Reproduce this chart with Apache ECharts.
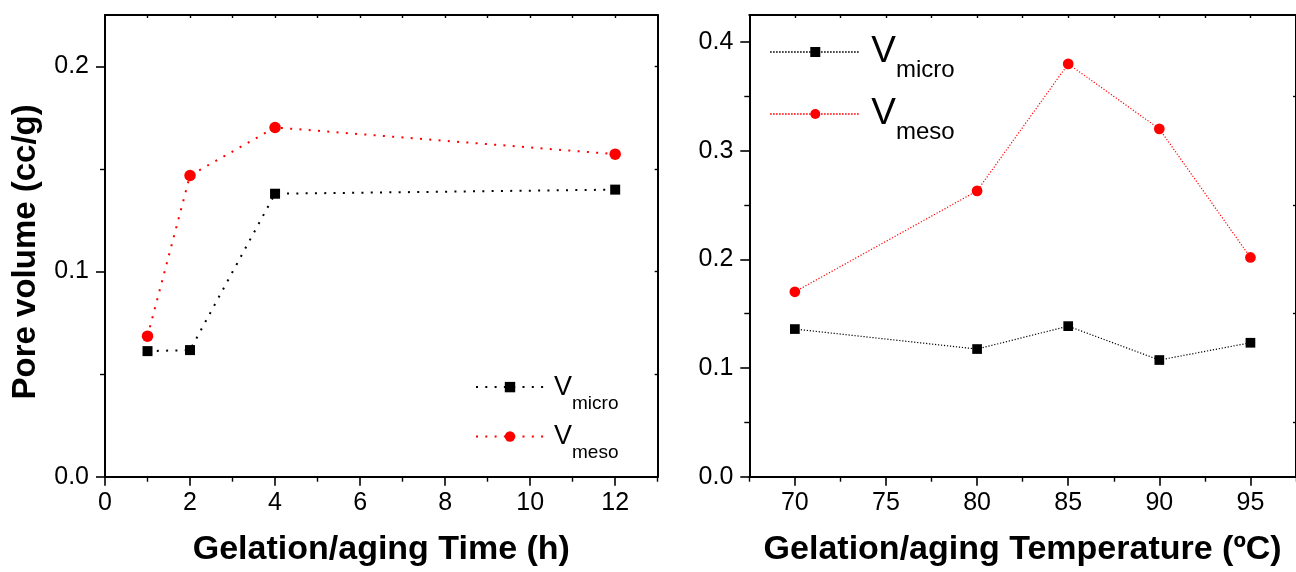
<!DOCTYPE html>
<html><head><meta charset="utf-8">
<script src="https://cdn.jsdelivr.net/npm/echarts@6/dist/echarts.min.js"></script>
<style>html,body{margin:0;padding:0;background:#fff}#c{width:1296px;height:572px}</style>
</head><body><div id="c"></div>
<script>
// ---- data ----
const timeHours = [1, 2, 4, 12];
const timeMicro = [0.0612, 0.0617, 0.1379, 0.1399];
const timeMeso = [0.0685, 0.1468, 0.1702, 0.1572];
const tempC = [70, 80, 85, 90, 95];
const tempMicro = [0.1359, 0.1175, 0.1386, 0.1074, 0.1233];
const tempMeso = [0.1702, 0.2631, 0.3800, 0.3202, 0.2018];
// ---- tick labels ----
const timeTicks = [0, 2, 4, 6, 8, 10, 12];
const timeMinorTicks = [1, 3, 5, 7, 9, 11, 13];
const timeTopTicks = [1, 2, 3, 4, 5, 6, 7, 8, 9, 10, 11, 12];
const tempTicks = [70, 75, 80, 85, 90, 95];
const tempMinorTicks = [67.5, 72.5, 77.5, 82.5, 87.5, 92.5, 97.5];
const tempTopTicks = [70, 72.5, 75, 77.5, 80, 82.5, 85, 87.5, 90, 92.5, 95];
const leftYTicks = [0, 0.1, 0.2];
const leftYMinor = [0.05, 0.15];
const leftYRight = [0.05, 0.1, 0.15, 0.2];
const rightYTicks = [0, 0.1, 0.2, 0.3, 0.4];
const rightYMinor = [0.05, 0.15, 0.25, 0.35];

const FONT = '"Liberation Sans", Arial, sans-serif';
const AX = '#000';
const pair = (xs, ys) => xs.map((x, i) => [x, ys[i]]);

function mainAxis(gridIndex, pos, min, max, ticks, fmt, extra) {
  return Object.assign({
    type: 'value', gridIndex, position: pos, min, max,
    axisLine: { show: true, onZero: false, lineStyle: { color: AX, width: 2 } },
    axisTick: { show: true, inside: false, length: 9, customValues: ticks, lineStyle: { color: AX, width: 1.6 } },
    axisLabel: { show: true, customValues: ticks, formatter: fmt, color: '#000', fontSize: 25, fontFamily: FONT, margin: (pos === 'bottom' ? 14 : 16) },
    splitLine: { show: false }
  }, extra || {});
}
function tickAxis(gridIndex, pos, min, max, ticks, len, inside, showLine) {
  return {
    type: 'value', gridIndex, position: pos, min, max,
    axisLine: { show: !!showLine, onZero: false, lineStyle: { color: AX, width: 2 } },
    axisTick: { show: true, inside: !!inside, length: len, customValues: ticks, lineStyle: { color: AX, width: 1.4 } },
    axisLabel: { show: false },
    splitLine: { show: false }
  };
}

const xName = (t) => ({
  name: t, nameLocation: 'middle', nameGap: 56,
  nameTextStyle: { fontSize: 34, fontWeight: 'bold', fontFamily: FONT, color: '#000' }
});

function legendFor(seriesName, sub, left, iconY, w, h, fv, fs, L, gap) {
  return {
    data: [seriesName], left: left, top: iconY - L / 2 + 12, padding: 0, orient: 'vertical',
    itemWidth: w, itemHeight: h, selectedMode: false,
    formatter: () => '{v|V}{s|' + sub + '}',
    textStyle: {
      color: '#000', fontFamily: FONT,
      rich: {
        v: { fontSize: fv, lineHeight: L, verticalAlign: 'middle', fontFamily: FONT, color: '#000', padding: [0, 0, 0, gap] },
        s: { fontSize: fs, lineHeight: fs, verticalAlign: 'bottom', fontFamily: FONT, color: '#000' }
      }
    }
  };
}
function lineSeries(name, axisIdx, data, color, symbol, size, dash, width) {
  return {
    name: name, type: 'line', xAxisIndex: axisIdx, yAxisIndex: axisIdx, data: data,
    symbol: symbol, symbolSize: size, showSymbol: true,
    lineStyle: { color: color, width: width, type: dash, cap: 'butt' },
    itemStyle: { color: color, borderWidth: 0 },
    emphasis: { disabled: true }
  };
}

const option = {
  animation: false,
  backgroundColor: '#fff',
  grid: [
    { left: 105, top: 15, width: 552.7, height: 461.7 },
    { left: 749.3, top: 15, width: 553, height: 461.7 }
  ],
  xAxis: [
    mainAxis(0, 'bottom', 0, 13, timeTicks, v => String(v), xName('Gelation/aging Time (h)')),
    tickAxis(0, 'bottom', 0, 13, timeMinorTicks, 5, false, false),
    tickAxis(0, 'top', 0, 13, timeTopTicks, 3, true, true),
    mainAxis(1, 'bottom', 67.5, 97.5, tempTicks, v => String(v), xName('Gelation/aging Temperature (ºC)')),
    tickAxis(1, 'bottom', 67.5, 97.5, tempMinorTicks, 5, false, false),
    tickAxis(1, 'top', 67.5, 97.5, tempTopTicks, 3, true, true)
  ],
  yAxis: [
    mainAxis(0, 'left', 0, 0.225, leftYTicks, v => Number(v).toFixed(1), {
      name: 'Pore volume (cc/g)', nameLocation: 'middle', nameGap: 63,
      nameTextStyle: { fontSize: 33, fontWeight: 'bold', fontFamily: FONT, color: '#000', padding: [0, 12, 0, 0] }
    }),
    tickAxis(0, 'left', 0, 0.225, leftYMinor, 5, false, false),
    tickAxis(0, 'right', 0, 0.225, leftYRight, 3, true, true),
    mainAxis(1, 'left', 0, 0.425, rightYTicks, v => Number(v).toFixed(1)),
    tickAxis(1, 'left', 0, 0.425, rightYMinor, 5, false, false),
    tickAxis(1, 'right', 0, 0.425, rightYMinor, 3, true, true)
  ],
  legend: [
    legendFor('micro (time)', 'micro', 475, 387.3, 68, 13, 27, 19, 51.4, 5),
    legendFor('meso (time)', 'meso', 475, 436.7, 68, 13, 27, 19, 51.4, 5),
    legendFor('micro (temperature)', 'micro', 769.3, 52.3, 90, 12.5, 37, 24, 61.6, 6),
    legendFor('meso (temperature)', 'meso', 769.3, 114.3, 90, 12.5, 37, 24, 61.6, 6)
  ],
  series: [
    lineSeries('micro (time)', 0, pair(timeHours, timeMicro), '#000', 'rect', 10, [2, 7.3], 2),
    lineSeries('meso (time)', 0, pair(timeHours, timeMeso), '#ff0000', 'circle', 11.5, [2, 7.3], 2),
    lineSeries('micro (temperature)', 3, pair(tempC, tempMicro), '#000', 'rect', 9.7, [1.2, 1.8], 1.2),
    lineSeries('meso (temperature)', 3, pair(tempC, tempMeso), '#ff0000', 'circle', 10.7, [1.2, 1.8], 1.2)
  ]
};

const chart = echarts.init(document.getElementById('c'), null, { renderer: 'canvas' });
chart.setOption(option);
</script>
</body></html>
